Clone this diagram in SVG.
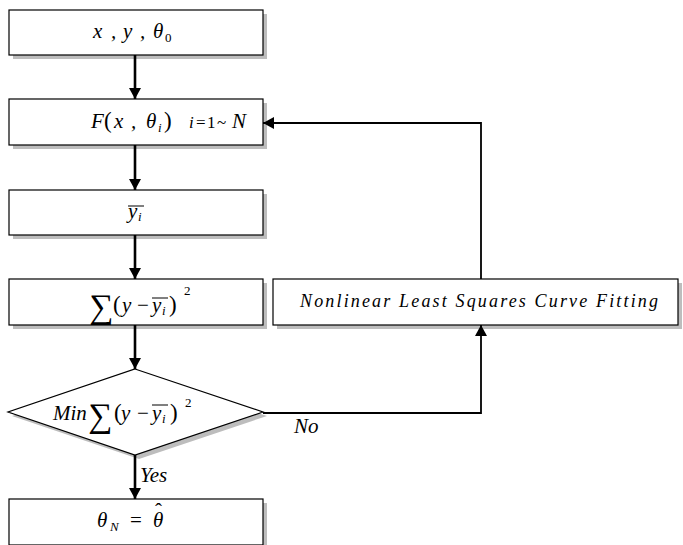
<svg xmlns="http://www.w3.org/2000/svg" width="683" height="545" viewBox="0 0 683 545">
<style>
.box{fill:#fff;stroke:#000;stroke-width:1.2}
.sh{fill:#bdbdbd;stroke:none}
.t{font-family:'Liberation Serif','Times New Roman',serif;font-style:italic;font-size:21px;fill:#000}
.n{font-style:normal}
.sub{font-size:13px}
.par{font-style:normal;font-size:23px}
.sig{font-style:normal;font-size:34px}
.thick{stroke:#000;stroke-width:2.6;fill:none}
.thin{stroke:#000;stroke-width:1.8;fill:none}
.ol{stroke:#000;stroke-width:1}
</style>
<defs>
<marker id="ah" markerUnits="userSpaceOnUse" markerWidth="11" markerHeight="12" refX="11" refY="6" orient="auto">
<path d="M0,0 L11,6 L0,12 z" fill="#000"/>
</marker>
</defs>
<rect width="683" height="545" fill="#fff"/>

<g id="n1">
<rect class="sh" x="13" y="14" width="254" height="45"/>
<rect class="box" x="9" y="10" width="254" height="45"/>
<text class="t" y="38"><tspan x="93">x</tspan><tspan x="111">,</tspan><tspan x="123">y</tspan><tspan x="140">,</tspan><tspan x="153">θ</tspan><tspan class="sub n" x="165" y="42">0</tspan></text>
</g>

<g id="n2">
<rect class="sh" x="13" y="103" width="254" height="46"/>
<rect class="box" x="9" y="99" width="254" height="46"/>
<text class="t" y="128"><tspan x="91">F</tspan><tspan class="par" x="104">(</tspan><tspan x="114">x</tspan><tspan x="131">,</tspan><tspan x="146">θ</tspan><tspan class="sub" x="158" y="132">i</tspan><tspan class="par" x="164" y="128">)</tspan><tspan x="189" font-size="17">i</tspan><tspan class="n" x="196" font-size="17">=</tspan><tspan class="n" x="207" font-size="17">1</tspan><tspan class="n" x="217" font-size="17">~</tspan><tspan x="232">N</tspan></text>
</g>

<g id="n3">
<rect class="sh" x="13" y="194" width="254" height="45"/>
<rect class="box" x="9" y="190" width="254" height="45"/>
<line class="ol" x1="128" y1="206" x2="144" y2="206"/>
<text class="t" y="218"><tspan x="128">y</tspan><tspan class="sub" x="138" y="221">i</tspan></text>
</g>

<g id="n4">
<rect class="sh" x="13" y="283" width="254" height="46"/>
<rect class="box" x="9" y="279" width="254" height="46"/>
<text class="t" y="312"><tspan class="sig" x="89" y="318">∑</tspan><tspan class="par" x="113" y="312">(</tspan><tspan x="122">y</tspan><tspan class="n" x="137">−</tspan><tspan x="152">y</tspan><tspan class="sub" x="162" y="315">i</tspan><tspan class="par" x="169" y="312">)</tspan><tspan class="sub n" x="184" y="295">2</tspan></text>
<line class="ol" x1="152" y1="298" x2="168" y2="298"/>
</g>

<g id="n5">
<rect class="sh" x="277" y="283" width="405" height="46"/>
<rect class="box" x="273" y="279" width="405" height="46"/>
<text class="t" x="300" y="307" textLength="358" lengthAdjust="spacing" style="font-size:18px">Nonlinear Least Squares Curve Fitting</text>
</g>

<g id="n6">
<polygon class="sh" points="139,373 267,416 139,459 12,416"/>
<polygon class="box" points="135,369 263,412 135,455 8,412"/>
<text class="t" y="420"><tspan x="53">Min</tspan><tspan class="sig" x="88" y="427">∑</tspan><tspan class="par" x="114" y="420">(</tspan><tspan x="121">y</tspan><tspan class="n" x="137">−</tspan><tspan x="152">y</tspan><tspan class="sub" x="162" y="423">i</tspan><tspan class="par" x="170" y="420">)</tspan><tspan class="sub n" x="185" y="407">2</tspan></text>
<line class="ol" x1="152" y1="405" x2="168" y2="405"/>
</g>

<g id="n7">
<rect class="sh" x="13" y="503" width="254" height="46"/>
<rect class="box" x="9" y="499" width="254" height="46"/>
<text class="t" y="527"><tspan x="97">θ</tspan><tspan class="sub" x="110" y="531">N</tspan><tspan class="n" x="130" y="527">=</tspan><tspan x="153">θ</tspan><tspan class="n" x="155" y="518">ˆ</tspan></text>
</g>

<g id="connectors">
<line class="thick" x1="135" y1="55" x2="135" y2="99" marker-end="url(#ah)"/>
<line class="thick" x1="135" y1="145" x2="135" y2="190" marker-end="url(#ah)"/>
<line class="thick" x1="135" y1="235" x2="135" y2="279" marker-end="url(#ah)"/>
<line class="thick" x1="135" y1="325" x2="135" y2="369" marker-end="url(#ah)"/>
<line class="thick" x1="135" y1="455" x2="135" y2="499" marker-end="url(#ah)"/>
<polyline class="thin" points="263,413 481,413 481,325" marker-end="url(#ah)"/>
<polyline class="thin" points="481,279 481,123 263,123" marker-end="url(#ah)"/>
<text class="t" x="294" y="433">No</text>
<text class="t" x="140" y="482">Yes</text>
</g>
</svg>
